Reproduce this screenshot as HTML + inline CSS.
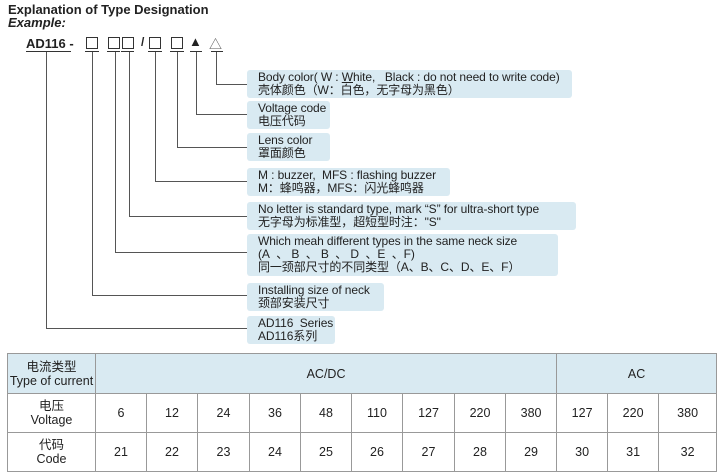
<!DOCTYPE html>
<html><head><meta charset="utf-8"><style>
body{margin:0;width:720px;height:475px;background:#fff;position:relative;overflow:hidden;font-family:"Liberation Sans","Noto Sans CJK SC",sans-serif;color:#222}
.a{position:absolute}
.sq{position:absolute;top:37px;width:10px;height:10px;border:1px solid #333}
.ul{position:absolute;top:51px;height:1px;background:#333}
.v{position:absolute;width:1px;background:#555}
.h{position:absolute;height:1px;background:#555}
.box{position:absolute;left:247px;background:#d9eaf2;border-radius:3px;font-size:12px;letter-spacing:-0.1px;line-height:13px;padding:1px 0 0 11px;box-sizing:border-box;white-space:nowrap}
table{position:absolute;left:7px;top:353px;border-collapse:collapse;width:709px;table-layout:fixed;font-size:12.5px;text-align:center}
td{border:1px solid #999;height:38px;padding:0;line-height:14px}
.hd{background:#d9eaf2}
</style></head><body>
<div class="a" style="left:8px;top:2px;font-weight:bold;font-size:13px">Explanation of Type Designation</div>
<div class="a" style="left:8px;top:15px;font-weight:bold;font-style:italic;font-size:13px">Example:</div>
<div class="a" style="left:26px;top:36px;font-weight:bold;font-size:13px">AD116 -</div>
<div class="ul" style="left:26px;width:45px"></div>
<div class="sq" style="left:86px"></div><div class="ul" style="left:85px;width:14px"></div>
<div class="sq" style="left:108px"></div><div class="ul" style="left:107px;width:13px"></div>
<div class="sq" style="left:122px"></div><div class="ul" style="left:121px;width:13px"></div>
<div class="a" style="left:141px;top:35px;font-weight:bold;font-size:12px">/</div>
<div class="sq" style="left:149px"></div><div class="ul" style="left:148px;width:14px"></div>
<div class="sq" style="left:171px"></div><div class="ul" style="left:170px;width:14px"></div>
<div class="a" style="left:189px;top:34px;font-size:13px">▲</div><div class="ul" style="left:190px;width:12px"></div>
<div class="a" style="left:209px;top:34px;font-size:13px;color:#555">△</div><div class="ul" style="left:211px;width:12px"></div>

<div class="v" style="left:216px;top:52px;height:33px"></div><div class="h" style="left:216px;top:84px;width:31px"></div>
<div class="v" style="left:196px;top:52px;height:63px"></div><div class="h" style="left:196px;top:114px;width:51px"></div>
<div class="v" style="left:177px;top:52px;height:96px"></div><div class="h" style="left:177px;top:147px;width:70px"></div>
<div class="v" style="left:155px;top:52px;height:130px"></div><div class="h" style="left:155px;top:181px;width:92px"></div>
<div class="v" style="left:129px;top:52px;height:165px"></div><div class="h" style="left:129px;top:216px;width:118px"></div>
<div class="v" style="left:115px;top:52px;height:201px"></div><div class="h" style="left:115px;top:252px;width:132px"></div>
<div class="v" style="left:92px;top:52px;height:243px"></div><div class="h" style="left:92px;top:295px;width:155px"></div>
<div class="v" style="left:46px;top:52px;height:277px"></div><div class="h" style="left:46px;top:328px;width:201px"></div>

<div class="box" style="top:70px;width:325px;height:28px">Body color( W : <u>W</u>hite,&nbsp;&nbsp; Black : do not need to write code)<br>壳体颜色（W：白色，无字母为黑色）</div>
<div class="box" style="top:101px;width:83px;height:28px">Voltage code<br>电压代码</div>
<div class="box" style="top:133px;width:83px;height:28px">Lens color<br>罩面颜色</div>
<div class="box" style="top:168px;width:203px;height:28px">M : buzzer,&nbsp; MFS : flashing buzzer<br>M：蜂鸣器，MFS：闪光蜂鸣器</div>
<div class="box" style="top:202px;width:329px;height:28px">No letter is standard type, mark “S” for ultra-short type<br>无字母为标准型，超短型时注："S"</div>
<div class="box" style="top:234px;width:311px;height:42px">Which meah different types in the same neck size<br>(A&nbsp; 、 B&nbsp; 、 B&nbsp; 、 D&nbsp; 、E&nbsp; 、F)<br>同一颈部尺寸的不同类型（A、B、C、D、E、F）</div>
<div class="box" style="top:283px;width:137px;height:28px">Installing size of neck<br>颈部安装尺寸</div>
<div class="box" style="top:316px;width:88px;height:28px">AD116&nbsp; Series<br>AD116系列</div>

<table>
<colgroup><col style="width:88px"><col style="width:51px"><col style="width:51px"><col style="width:52px"><col style="width:51px"><col style="width:51px"><col style="width:51px"><col style="width:52px"><col style="width:51px"><col style="width:51px"><col style="width:51px"><col style="width:51px"><col style="width:58px"></colgroup>
<tr style="height:40px"><td class="hd">电流类型<br>Type of current</td><td class="hd" colspan="9">AC/DC</td><td class="hd" colspan="3">AC</td></tr>
<tr><td>电压<br>Voltage</td><td>6</td><td>12</td><td>24</td><td>36</td><td>48</td><td>110</td><td>127</td><td>220</td><td>380</td><td>127</td><td>220</td><td>380</td></tr>
<tr><td>代码<br>Code</td><td>21</td><td>22</td><td>23</td><td>24</td><td>25</td><td>26</td><td>27</td><td>28</td><td>29</td><td>30</td><td>31</td><td>32</td></tr>
</table>
</body></html>
